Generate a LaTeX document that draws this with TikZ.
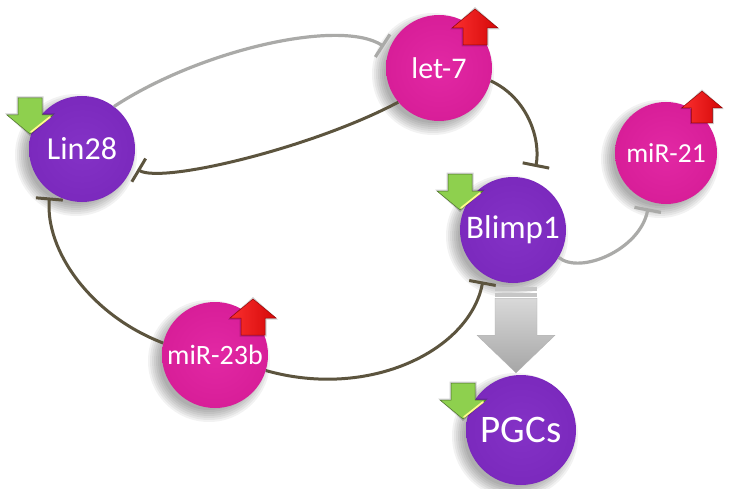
\documentclass[tikz,border=0pt]{standalone}
\usepackage{fontspec}
\setmainfont{Carlito}
\usetikzlibrary{arrows.meta,calc}
\definecolor{purp}{RGB}{120,38,186}
\definecolor{purpL}{RGB}{132,50,198}
\definecolor{purpD}{RGB}{96,24,154}
\definecolor{mag}{RGB}{212,26,148}
\definecolor{magL}{RGB}{226,40,164}
\definecolor{magD}{RGB}{178,16,120}
\definecolor{darkline}{RGB}{92,84,62}
\definecolor{greyline}{RGB}{170,170,168}
\definecolor{arrgreen}{RGB}{142,208,78}
\definecolor{arrred}{RGB}{250,10,10}
\pgfdeclareradialshading{purpball}{\pgfpoint{0bp}{0bp}}{color(0bp)=(purpL);color(34bp)=(purp);color(47bp)=(purpD);color(50bp)=(purpD)}
\pgfdeclareradialshading{magball}{\pgfpoint{0bp}{0bp}}{color(0bp)=(magL);color(34bp)=(mag);color(47bp)=(magD);color(50bp)=(magD)}
\newcommand\ballshadow[2]{%
  \foreach \k in {0,...,6}{\fill[black,opacity=0.05] ($(#1)+(-6,6)$) circle ({#2-4pt+2pt*\k});}}
\newcommand\fsz[1]{\fontsize{#1}{#1}\selectfont}
\tikzset{
  ball/.style={circle, inner sep=0pt, minimum size=106pt, text=white, font=\fsz{28}},
  purpnode/.style={ball, shading=purpball},
  magnode/.style={ball, shading=magball},
  darkconn/.style={draw=darkline, line width=3pt, -{Bar[width=27pt]}},
  greyconn/.style={draw=greyline, line width=3.2pt, -{Bar[width=27pt]}},
  uparr/.pic={
    \fill[black,opacity=0.18] (-13.5,19.5) -- (-13.5,2.5) -- (-25,2.5) -- (0,-20) -- (25,2.5) -- (13.5,2.5) -- (13.5,19.5) -- cycle;
    \path[left color=arrred!85!white, right color=arrred!85!black, draw=arrred!60!black, line width=0.5pt]
      (-12,18) -- (-12,1) -- (-23,1) -- (0,-18) -- (23,1) -- (12,1) -- (12,18) -- cycle;
  },
  downarr/.pic={
    \fill[black,opacity=0.18] (-13.5,-19.5) -- (-13.5,-2.5) -- (-25,-2.5) -- (0,20) -- (25,-2.5) -- (13.5,-2.5) -- (13.5,-19.5) -- cycle;
    \path[fill=arrgreen, draw=arrgreen!55!black, line width=0.5pt]
      (-12,-18) -- (-12,-1) -- (-23,-1) -- (0,18) -- (23,-1) -- (12,-1) -- (12,-18) -- cycle;
    \draw[yellow!45!white, line width=1.8pt, line cap=round] (20,1) -- (1,16);
  }
}
\begin{document}
\begin{tikzpicture}[x=1pt,y=-1pt]
\useasboundingbox (0,0) rectangle (735,489);
\fill[white] (0,0) rectangle (735,489);

% centres
\coordinate (cLin) at (82,149);
\coordinate (cLet) at (439,68);
\coordinate (cM21) at (666,153);
\coordinate (cBli) at (513,230);
\coordinate (cM23) at (215,355);
\coordinate (cPGC) at (521,430);

% soft shadows
\ballshadow{cLin}{53pt}
\ballshadow{cLet}{53pt}
\ballshadow{cM21}{51pt}
\ballshadow{cBli}{53pt}
\ballshadow{cM23}{53pt}
\ballshadow{cPGC}{55pt}

% nodes
\node[purpnode, font=\fsz{32}] (lin28) at (cLin) {Lin28};
\node[magnode, font=\fsz{30}] (let7) at ($(cLet)+(0,0)$) {\raisebox{-3pt}{let-7}};
\node[magnode, minimum size=102pt, font=\fsz{27.5}] (mir21) at (cM21) {miR-21};
\node[purpnode, font=\fsz{33}] (blimp1) at (cBli) {Blimp1};
\node[magnode, font=\fsz{28}] (mir23b) at (cM23) {miR-23b};
\node[purpnode, minimum size=110pt, font=\fsz{39}] (pgcs) at (cPGC) {PGCs};

% connectors
\draw[greyconn, shorten >=6pt] (lin28.53) .. controls (200,50) and (340,18) .. (let7.160);
\draw[darkconn, shorten >=6pt] (let7.220) .. controls (312,148) and (162,184) .. (lin28.-19);
\draw[darkconn, shorten >=14pt] (let7.-14) .. controls (528,98) and (541,140) .. (blimp1.68);
\draw[greyconn, shorten >=7pt] (blimp1.-31) .. controls (580,275) and (640,250) .. (mir21.251);
\draw[darkconn, shorten >=6pt] (mir23b.167) .. controls (90,315) and (45,250) .. (lin28.233);
\draw[darkconn, shorten >=7pt] (mir23b.-17) .. controls (370,400) and (470,350) .. (blimp1.237);

% big grey arrow Blimp1 -> PGCs
\coordinate (gtop) at ($(blimp1.south)+(3,4)$);
\coordinate (gtip) at ($(pgcs.north)+(-5,-2)$);
\fill[gray!45] ($(gtop)+(-21,0)$) rectangle ($(gtop)+(21,3.5)$);
\fill[gray!45] ($(gtop)+(-21,5.5)$) rectangle ($(gtop)+(21,9.5)$);
\path[top color=gray!30, bottom color=gray!70, draw=gray!60, line width=0.4pt]
  ($(gtop)+(-21,11)$) -- ($(gtop)+(21,11)$) -- ($(gtop)+(21,48)$) -- ($(gtop)+(39,48)$)
  -- (gtip) -- ($(gtop)+(-39,48)$) -- ($(gtop)+(-21,48)$) -- cycle;

% badges
\pic at (475,27) {uparr};
\pic[scale=0.88] at (702,107) {uparr};
\pic at (253,317) {uparr};
\pic at (30,116) {downarr};
\pic at (460,192) {downarr};
\pic at (463,401) {downarr};
\end{tikzpicture}
\end{document}
